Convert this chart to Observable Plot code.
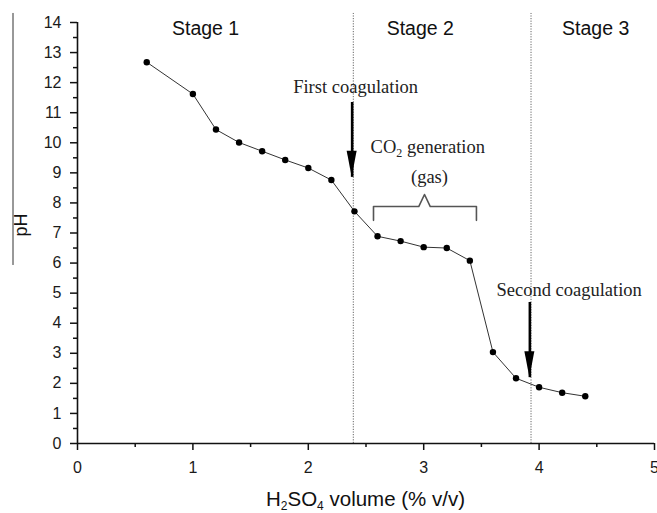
<!DOCTYPE html>
<html>
<head>
<meta charset="utf-8">
<script src="https://cdn.jsdelivr.net/npm/d3@7"></script>
<script src="https://cdn.jsdelivr.net/npm/@observablehq/plot@0.6"></script>
<style>
  html, body { margin: 0; padding: 0; background: #fff; }
  #chart svg { display: block; }
</style>
</head>
<body>
<div id="chart"></div>
<script>
// Data
const acidVolume = [0.6, 1.0, 1.2, 1.4, 1.6, 1.8, 2.0, 2.2, 2.4, 2.6, 2.8, 3.0, 3.2, 3.4, 3.6, 3.8, 4.0, 4.2, 4.4];
const pHValues   = [12.68, 11.62, 10.44, 10.01, 9.72, 9.43, 9.16, 8.76, 7.72, 6.89, 6.73, 6.53, 6.50, 6.08, 3.04, 2.17, 1.87, 1.69, 1.57];

const xTicks = [0, 1, 2, 3, 4, 5];
const xMinorTicks = [0.5, 1.5, 2.5, 3.5, 4.5];
const yTicks = [0, 1, 2, 3, 4, 5, 6, 7, 8, 9, 10, 11, 12, 13, 14];
const yMinorTicks = [0.5, 1.5, 2.5, 3.5, 4.5, 5.5, 6.5, 7.5, 8.5, 9.5, 10.5, 11.5, 12.5, 13.5];

// Stage boundaries and labels
const stageBoundaries = [2.39, 3.93];
const stageNames = ["Stage 1", "Stage 2", "Stage 3"];
const stageCenters = [1.11, 2.97, 4.49];

// Annotations
const noteTexts = ["First coagulation", "(gas)", "Second coagulation"];
const noteX = [2.41, 3.05, 4.26];
const noteY = [11.67, 8.65, 4.92];
const arrowX = [2.38, 3.92];
const arrowTop = [11.34, 4.69];
const arrowTip = [8.85, 2.19];
const bracketX = [2.565, 2.565, 2.957, 3.007, 3.057, 3.457, 3.457];
const bracketY = [7.42, 7.88, 7.88, 8.28, 7.88, 7.88, 7.42];

const data = acidVolume.map((v, i) => ({v, ph: pHValues[i]}));
const bracket = bracketX.map((x, i) => ({x, y: bracketY[i]}));
const stages = stageNames.map((name, i) => ({name, x: stageCenters[i]}));
const notes = noteTexts.map((t, i) => ({t, x: noteX[i], y: noteY[i]}));
const arrows = arrowX.map((x, i) => ({x, y1: arrowTop[i], y2: arrowTip[i]}));

const sans = "'Liberation Sans', Arial, Helvetica, sans-serif";
const serif = "'Liberation Serif', 'Times New Roman', serif";

const plot = Plot.plot({
  width: 657,
  height: 513,
  marginLeft: 77,
  marginRight: 3,
  marginTop: 22,
  marginBottom: 70,
  style: {fontFamily: sans, background: "#fff", overflow: "visible"},
  x: {domain: [0, 5]},
  y: {domain: [0, 14]},
  marks: [
    Plot.axisX({ticks: xTicks, tickFormat: d3.format("d"), tickSize: 7, tickPadding: 11, fontSize: 16, label: null, stroke: "#111", strokeWidth: 1.5, fill: "#1a1a1a"}),
    Plot.axisX({ticks: xMinorTicks, tickSize: 4, tickFormat: () => "", label: null, stroke: "#111", strokeWidth: 1.5}),
    Plot.axisY({ticks: yTicks, tickFormat: d3.format("d"), tickSize: 7, tickPadding: 9, fontSize: 16, label: null, stroke: "#111", strokeWidth: 1.5, fill: "#1a1a1a"}),
    Plot.axisY({ticks: yMinorTicks, tickSize: 4, tickFormat: () => "", label: null, stroke: "#111", strokeWidth: 1.5}),
    Plot.ruleX(stageBoundaries, {y1: 0, y2: 14.3, stroke: "#666", strokeWidth: 1, strokeDasharray: "1.2,1.4", clip: false}),
    Plot.ruleY([0], {stroke: "#111", strokeWidth: 1.6}),
    Plot.ruleX([0], {y1: 0, y2: 14, stroke: "#111", strokeWidth: 1.6}),
    Plot.line(data, {x: "v", y: "ph", stroke: "#333", strokeWidth: 1}),
    Plot.dot(data, {x: "v", y: "ph", r: 3.2, fill: "#000", stroke: "none"}),
    Plot.line(bracket, {x: "x", y: "y", stroke: "#555", strokeWidth: 1.6, curve: "linear"}),
    Plot.ruleX(arrows, {x: "x", y1: "y1", y2: "y2", stroke: "#000", strokeWidth: 2.6}),
    Plot.text(stages, {x: "x", y: 13.57, text: "name", fontSize: 19.5, fontFamily: sans, fill: "#111", lineAnchor: "bottom"}),
    Plot.text(notes, {x: "x", y: "y", text: "t", fontSize: 18.5, fontFamily: serif, fill: "#222", lineAnchor: "bottom"})
  ]
});

document.getElementById("chart").appendChild(plot);

// Post-process: arrow heads, subscripted labels, rotated pH label
const sx = plot.scale("x").apply;
const sy = plot.scale("y").apply;
const svg = d3.select(plot);

// arrow heads
arrows.forEach(a => {
  const x = sx(a.x), yt = sy(a.y2);
  svg.append("path")
    .attr("d", `M${x - 5},${yt - 26} L${x + 5},${yt - 26} L${x},${yt} Z`)
    .attr("fill", "#000");
});

// CO2 generation label
const co2 = svg.append("text")
  .attr("x", sx(3.04)).attr("y", sy(9.64))
  .attr("text-anchor", "middle")
  .attr("font-family", serif).attr("font-size", 18.5).attr("fill", "#222");
co2.append("tspan").text("CO");
co2.append("tspan").attr("font-size", 12).attr("dy", 4).text("2");
co2.append("tspan").attr("dy", -4).text(" generation");

// x-axis label with subscripts
const xl = svg.append("text")
  .attr("x", (sx(0) + sx(5)) / 2).attr("y", 506)
  .attr("text-anchor", "middle")
  .attr("font-family", sans).attr("font-size", 20.5).attr("fill", "#111");
xl.append("tspan").text("H");
xl.append("tspan").attr("font-size", 12).attr("dy", 4).text("2");
xl.append("tspan").attr("dy", -4).text("SO");
xl.append("tspan").attr("font-size", 12).attr("dy", 4).text("4");
xl.append("tspan").attr("dy", -4).text(" volume (% v/v)");

// y-axis label
svg.append("text")
  .attr("transform", `translate(27,${sy(7.25)}) rotate(-90)`)
  .attr("text-anchor", "middle")
  .attr("font-family", sans).attr("font-size", 18).attr("fill", "#111")
  .text("pH");
svg.append("line")
  .attr("x1", 13).attr("x2", 13)
  .attr("y1", sy(14.3)).attr("y2", sy(5.92))
  .attr("stroke", "#333").attr("stroke-width", 1);
</script>
</body>
</html>
